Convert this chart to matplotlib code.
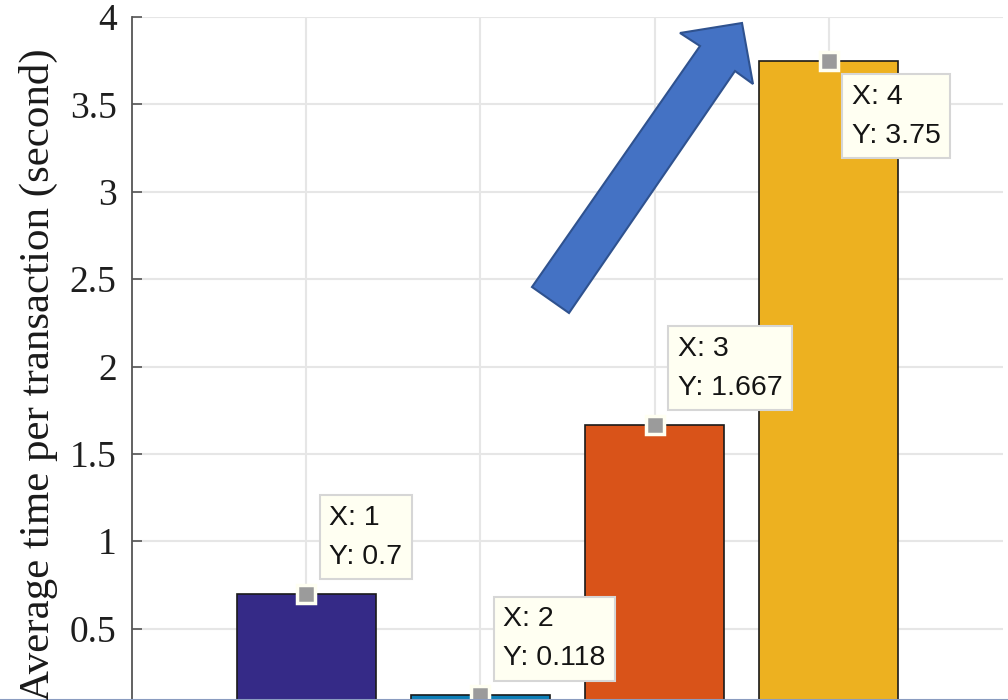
import matplotlib
matplotlib.use("Agg")
import matplotlib.pyplot as plt
from matplotlib.patches import Polygon
from matplotlib.lines import Line2D

# Data
categories = [1, 2, 3, 4]
avg_time = [0.7, 0.118, 1.667, 3.75]
bar_colors = ["#352a87", "#0c7fb8", "#d95319", "#edb120"]
y_ticks = [0.5, 1, 1.5, 2, 2.5, 3, 3.5, 4]
y_ticklabels = ["0.5", "1", "1.5", "2", "2.5", "3", "3.5", "4"]
# data-tip placement: (dx, dy) in pixels of the box text from the marker, vertical alignment
tip_offsets = [(23, 24, "bottom"), (23, 24, "bottom"), (23, 24, "bottom"), (23, -23, "top")]

W, H = 1008, 700
fig = plt.figure(figsize=(W / 100, H / 100), dpi=100)
ax = fig.add_axes([132 / W, -16 / H, (1003 - 132) / W, (716 - 17) / H])

ax.set_xlim(0, 5)
ax.set_ylim(0, 4)

ax.bar(categories, avg_time, width=0.8, color=bar_colors,
       edgecolor="#1a1a1a", linewidth=1.2, zorder=2)

# grid and axes styling
ax.set_xticks(categories)
ax.set_xticklabels([])
ax.tick_params(axis="x", length=0)
ax.set_yticks(y_ticks)
ax.set_yticklabels(y_ticklabels, family="Liberation Serif", fontsize=27, color="#1e1e1e")
ax.tick_params(axis="y", direction="in", length=7.5, width=1.2, color="#555555", pad=11)
ax.grid(True, color="#e6e6e6", linewidth=1.5, zorder=0)
ax.set_axisbelow(True)
for side in ("top", "right", "bottom"):
    ax.spines[side].set_visible(False)
ax.spines["left"].set_color("#555555")
ax.spines["left"].set_linewidth(1.3)

fig.text(38 / W, 1 - 375 / H, "Average time per transaction (second)",
         rotation=90, ha="center", va="center", family="Liberation Serif",
         fontsize=31, color="#1a1a1a")

# data tips
for x, y, (dx, dy, va) in zip(categories, avg_time, tip_offsets):
    ax.plot([x], [y], marker="s", markersize=13, color="#9b9b9b",
            markeredgecolor="#fffff2", markeredgewidth=2.5, zorder=5, clip_on=False)
    label = f"X: {x}\nY: {y:g}"
    ax.annotate(label, xy=(x, y), xytext=(dx, dy), textcoords="offset pixels",
                ha="left", va=va, family="Liberation Sans", fontsize=20.5,
                color="#141414", linespacing=1.65, zorder=6,
                bbox=dict(boxstyle="square,pad=0.33", facecolor="#fffff2",
                          edgecolor="#d6d6d6", linewidth=1.5))

# trend arrow (figure pixel coordinates, origin at top-left of the image)
arrow_px = [(532, 287), (700, 46), (680, 33), (742, 23), (753, 84), (735, 71), (569, 313)]
arrow_fig = [(px / W, 1 - py / H) for px, py in arrow_px]
fig.patches.append(Polygon(arrow_fig, closed=True, transform=fig.transFigure,
                           facecolor="#4472c4", edgecolor="#2f528f",
                           linewidth=1.5, zorder=10))

# thin frame line along the lower edge
fig.add_artist(Line2D([0, 1], [0.5 / H, 0.5 / H], transform=fig.transFigure,
                      color="#8a9cc0", linewidth=1.5))

fig.savefig("out.png", dpi=100)
